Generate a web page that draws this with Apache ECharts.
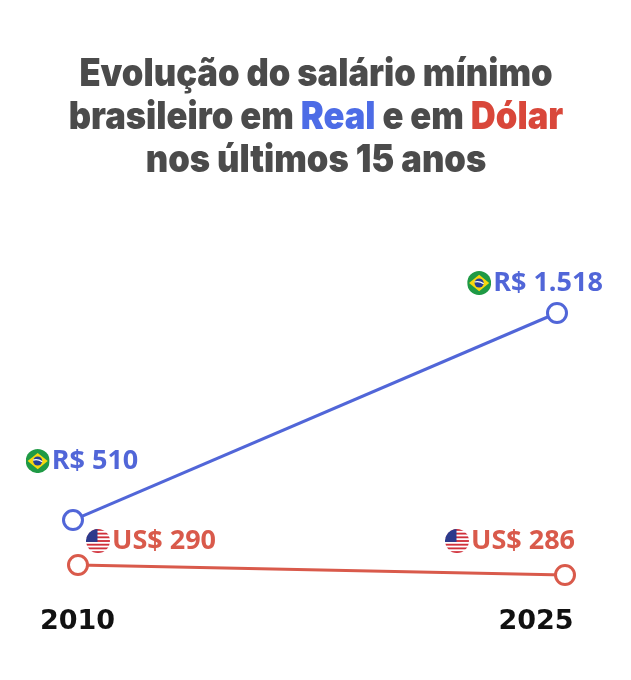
<!DOCTYPE html>
<html>
<head>
<meta charset="utf-8">
<script src="https://cdn.jsdelivr.net/npm/echarts@6/dist/echarts.min.js"></script>
<style>
  html, body { margin: 0; padding: 0; background: #fff; }
  #chart { width: 631px; height: 680px; }
</style>
</head>
<body>
<div id="chart"></div>
<script>
// dados
const years = ['2010', '2025'];
const realValues = [510, 1518];
const dollarValues = [290, 286];
const realLabels = ['R$ 510', 'R$ 1.518'];
const dollarLabels = ['US$ 290', 'US$ 286'];

const BLUE = '#5166d8';
const RED = '#d95a4b';
const GRAY = '#4b4b4b';

// bandeiras redondas (svg)
const svgUrl = s => 'data:image/svg+xml;charset=utf-8,' + encodeURIComponent(s);

const flagBR = svgUrl(
    "<svg xmlns='http://www.w3.org/2000/svg' viewBox='0 0 100 100'>" +
    "<defs><clipPath id='c'><circle cx='50' cy='50' r='50'/></clipPath></defs>" +
    "<g clip-path='url(#c)'>" +
    "<rect width='100' height='100' fill='#1f9a45'/>" +
    "<polygon points='50,16 92,50 50,84 8,50' fill='#f7d80f'/>" +
    "<circle cx='50' cy='50' r='19' fill='#263f98'/>" +
    "<path d='M31,46 Q50,40 69,53' stroke='#fff' stroke-width='5' fill='none'/>" +
    "</g></svg>"
);

let stripes = '';
for (let i = 0; i < 13; i += 2) {
    stripes += "<rect y='" + (i * 100 / 13) + "' width='100' height='" + (100 / 13) + "' fill='#d0303a'/>";
}
const flagUS = svgUrl(
    "<svg xmlns='http://www.w3.org/2000/svg' viewBox='0 0 100 100'>" +
    "<defs><clipPath id='c'><circle cx='50' cy='50' r='50'/></clipPath></defs>" +
    "<g clip-path='url(#c)'>" +
    "<rect width='100' height='100' fill='#fff'/>" + stripes +
    "<rect width='48' height='54' fill='#2c3a8c'/>" +
    "</g></svg>"
);

const labelRich = color => ({
    br: {width: 24, height: 24, backgroundColor: {image: flagBR}},
    us: {width: 24, height: 24, backgroundColor: {image: flagUS}},
    t: {
        fontFamily: 'Open Sans',
        fontWeight: 'bold',
        fontSize: 27,
        color,
        padding: [0, 0, 0, 2],
    },
});

// deslocamento dos rótulos em relação ao ponto
const realOffsets = [[9, -59], [-22, -30]];
const dollarOffsets = [[73, -24], [-55, -34]];

const chart = echarts.init(document.getElementById('chart'), null, {renderer: 'canvas'});

// título: fonte pesada e apertada (escala horizontal)
const titleStyle = {fontFamily: 'Inter', fontWeight: 900, fontSize: 38, fill: GRAY, lineHeight: 43};

chart.setOption({
    backgroundColor: '#fff',
    animation: false,
    graphic: [{
        type: 'text',
        x: 316,
        y: 53,
        scaleX: 0.91,
        style: {
            text: '{a|Evolução do salário mínimo}\n{a|brasileiro em }{b|Real}{a| e em }{c|Dólar}\n{a|nos últimos 15 anos}',
            align: 'center',
            verticalAlign: 'top',
            fill: GRAY,
            rich: {
                a: titleStyle,
                b: Object.assign({}, titleStyle, {fill: '#4d6ce6'}),
                c: Object.assign({}, titleStyle, {fill: '#d9473a'}),
            },
        },
    }],
    grid: [
        {left: 73, right: 74, top: 214, height: 410.8}, // real
        {left: 78, right: 66, top: 540, height: 50}, // dólar
        {left: 77.5, right: 95, top: 590, height: 1}, // anos
    ],
    xAxis: [0, 1, 2].map(i => ({
        type: 'category',
        gridIndex: i,
        data: years,
        boundaryGap: false,
        axisLine: {show: false},
        axisTick: {show: false},
        splitLine: {show: false},
        axisLabel: i === 2 ? {
            show: true,
            margin: 17,
            fontFamily: 'DejaVu Sans',
            fontWeight: 'bold',
            fontSize: 27,
            color: '#111',
        } : {show: false},
    })),
    yAxis: [
        {type: 'value', gridIndex: 0, min: 0, max: 2000, show: false},
        {type: 'value', gridIndex: 1, min: 280, max: 300, show: false},
        {type: 'value', gridIndex: 2, min: 0, max: 1, show: false},
    ],
    series: [
        {
            name: 'Real',
            type: 'line',
            xAxisIndex: 0,
            yAxisIndex: 0,
            data: realValues.map((v, i) => ({
                value: v,
                label: {offset: realOffsets[i], formatter: '{br|}{t|' + realLabels[i] + '}'},
            })),
            lineStyle: {color: BLUE, width: 3},
            symbol: 'circle',
            symbolSize: 19,
            itemStyle: {color: '#fff', borderColor: BLUE, borderWidth: 3},
            label: {show: true, position: 'inside', rich: labelRich(BLUE)},
            z: 3,
        },
        {
            name: 'Dólar',
            type: 'line',
            xAxisIndex: 1,
            yAxisIndex: 1,
            data: dollarValues.map((v, i) => ({
                value: v,
                label: {offset: dollarOffsets[i], formatter: '{us|}{t|' + dollarLabels[i] + '}'},
            })),
            lineStyle: {color: RED, width: 3},
            symbol: 'circle',
            symbolSize: 19,
            itemStyle: {color: '#fff', borderColor: RED, borderWidth: 3},
            label: {show: true, position: 'inside', rich: labelRich(RED)},
            z: 3,
        },
    ],
});
</script>
</body>
</html>
